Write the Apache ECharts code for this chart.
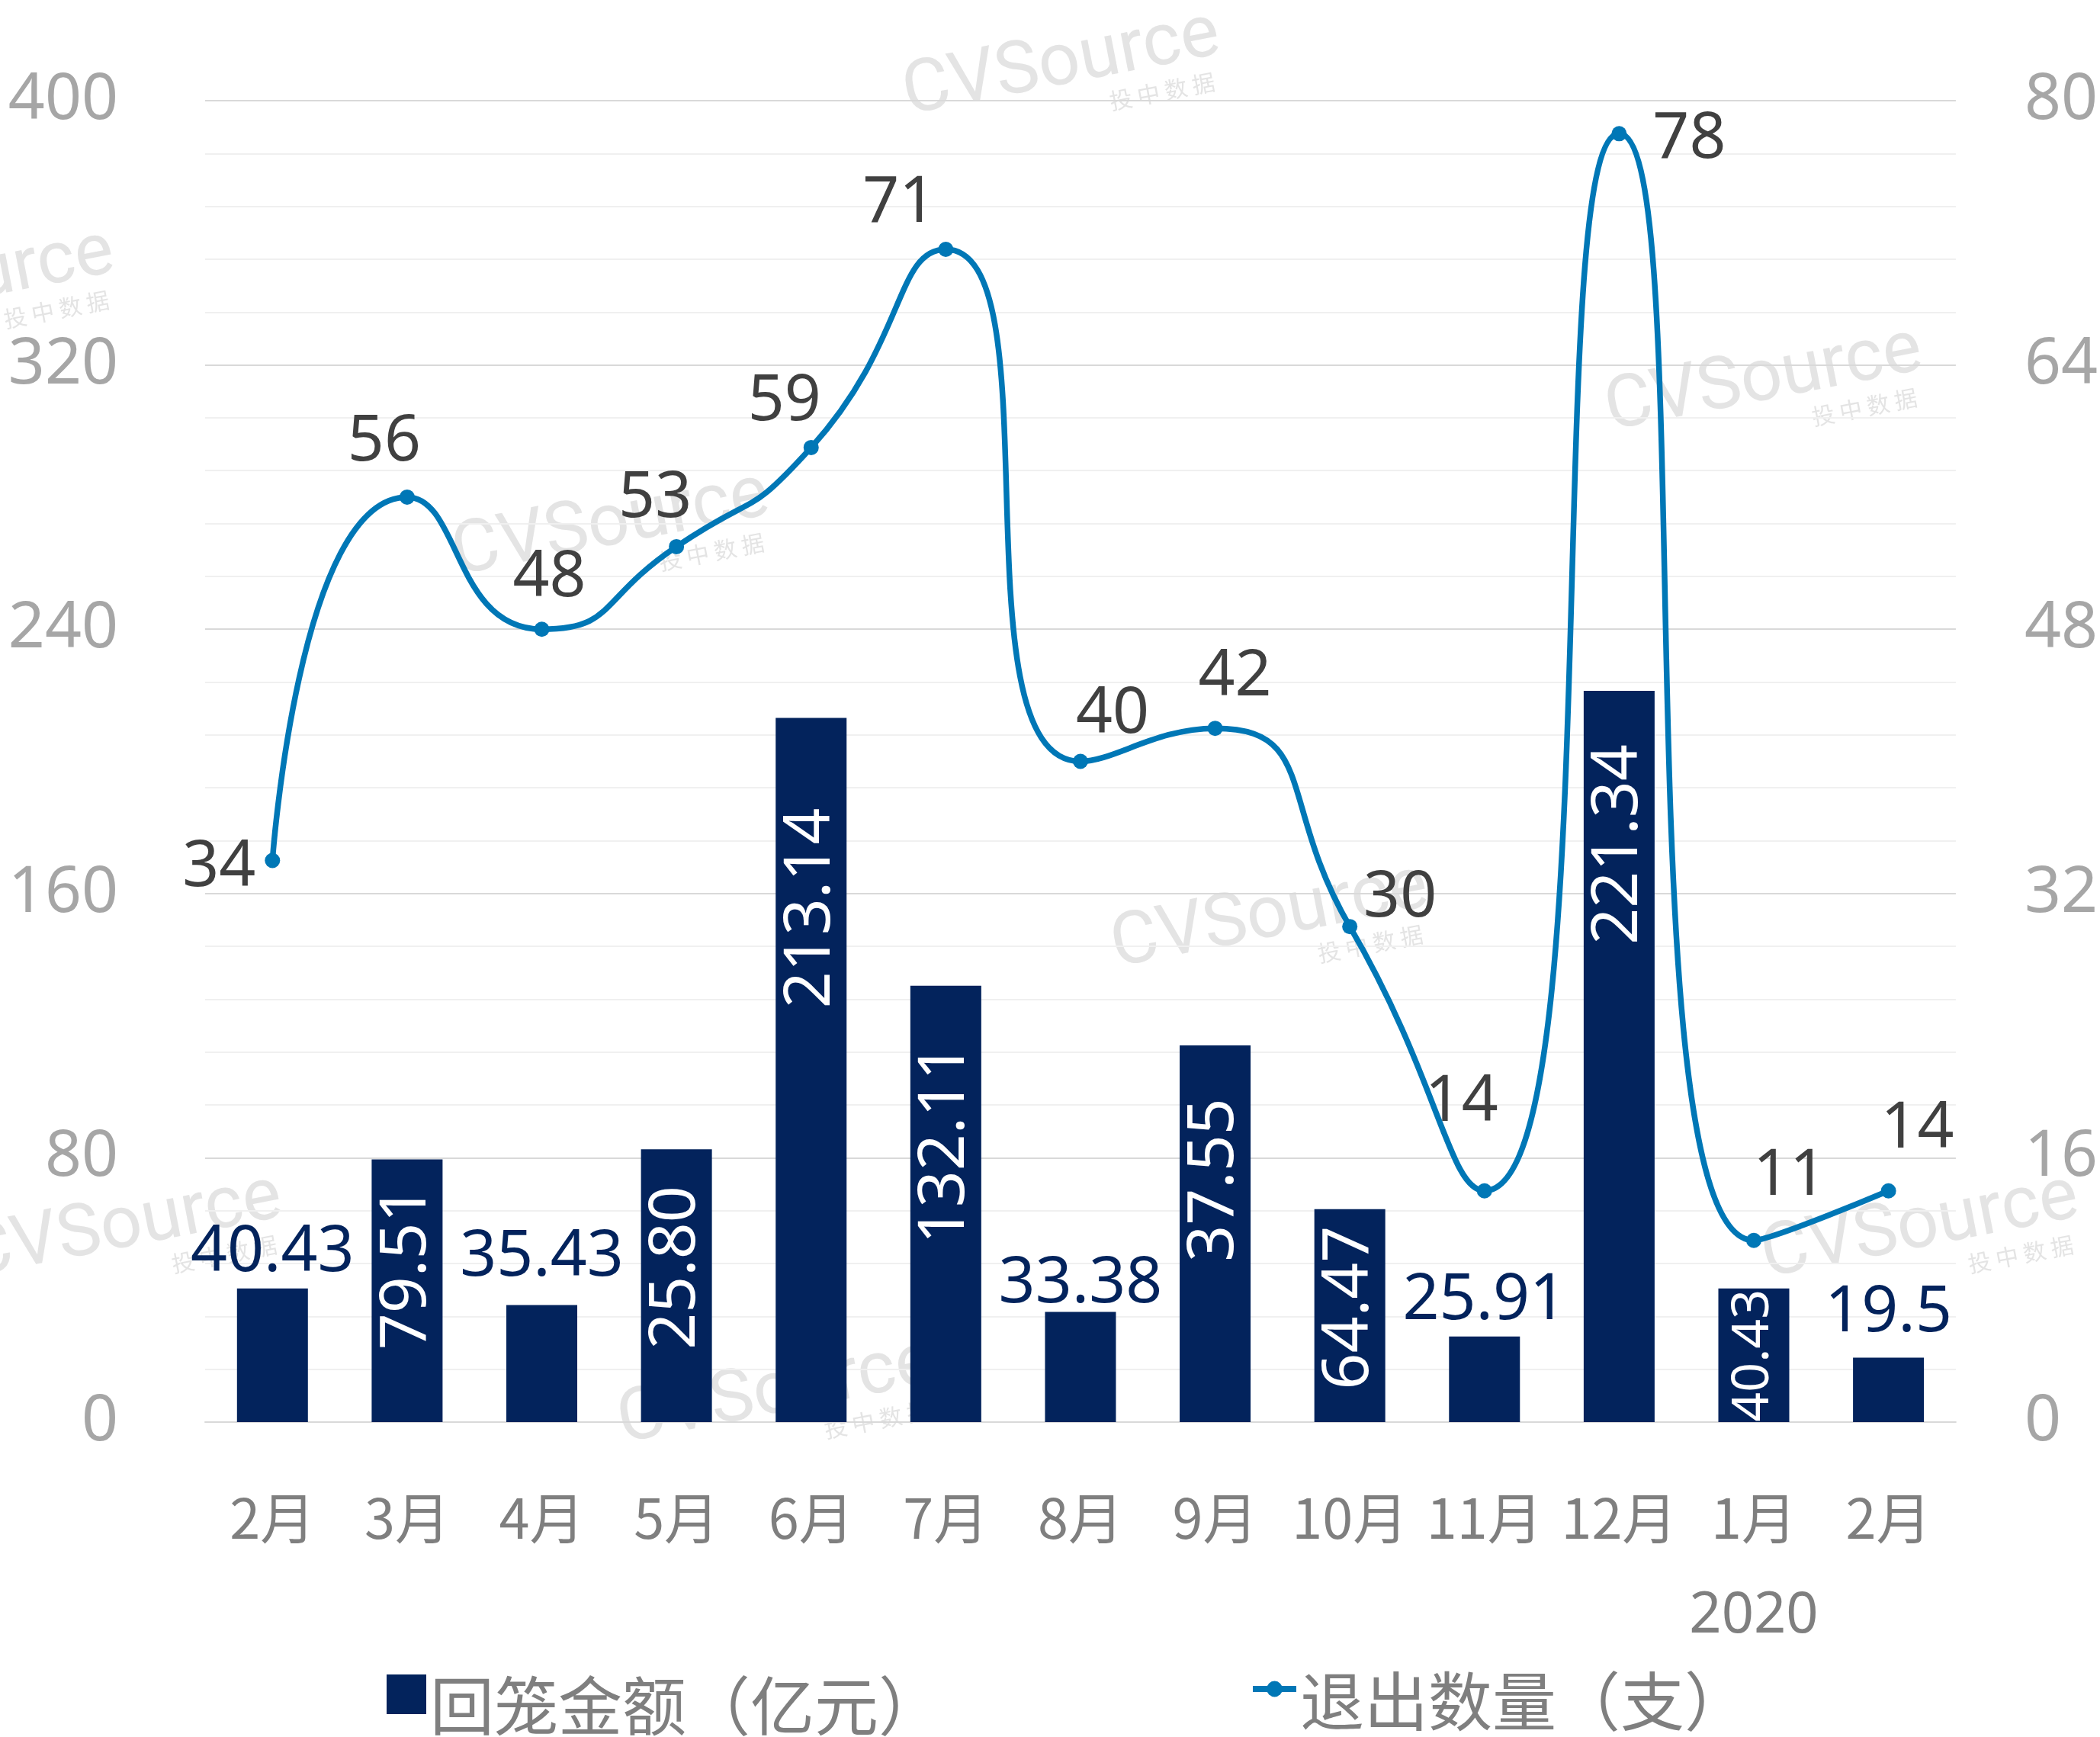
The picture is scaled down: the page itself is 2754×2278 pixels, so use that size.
<!DOCTYPE html>
<html>
<head>
<meta charset="utf-8">
<script src="https://cdn.jsdelivr.net/npm/echarts@6/dist/echarts.min.js"></script>
<style>
html,body{margin:0;padding:0;background:#fff;}
#main{width:2754px;height:2278px;}
</style>
</head>
<body>
<div id="main"></div>
<script>
// 月份
var months = ['2月','3月','4月','5月','6月','7月','8月','9月','10月','11月','12月','1月','2月'];
var yearLabel = '2020';
var yearIndex = 11;
// 回笼金额(亿元) 柱高
var amount = [40.43, 79.51, 35.43, 82.6, 213.14, 132.11, 33.38, 114.0, 64.47, 25.91, 221.34, 40.43, 19.5];
// 柱上标注文字
var amountText = ['40.43','79.51','35.43','25.80','213.14','132.11','33.38','37.55','64.47','25.91','221.34','40.43','19.5'];
// 退出数量(支)
var exits = [34, 56, 48, 53, 59, 71, 40, 42, 30, 14, 78, 11, 14];

// 标签摆放 (样式)
var rotGap = [null, 35, null, 48, 118, 76, null, 69, 22, null, 70, 1, null];   // 竖排白字离柱顶
var topGap = [5, 0, 20, 0, 0, 0, -6, 0, 0, 5, 0, 0, 16];                      // 横排字离柱顶
var lineOffset = [[-70,10],[-30,-72],[10,-67],[-28,-63],[-35,-60],[-61,-60],[42,-61],[26,-67],[66,-37],[-30,-116],[92,8],[47,-84],[38,-81]];
// 水印位置
var marks = [[1392,86],[-58,372],[801,690],[2313,500],[1665,1204],[162,1611],[1018,1828],[2518,1611]];

var navy = '#03235c';
var blue = '#0077b6';
var numFont = '"Noto Sans", "Noto Sans CJK SC", sans-serif';
var cjkFont = '"Noto Sans CJK SC", sans-serif';

var barData = [];
for (var i = 0; i < amount.length; i++) {
    var lab;
    if (rotGap[i] !== null) {
        lab = {show: true, position: 'insideTop', distance: rotGap[i], rotate: 90,
               align: 'right', verticalAlign: 'middle', color: '#fff',
               fontSize: i == 11 ? 68 : 84, formatter: amountText[i]};
    } else {
        lab = {show: true, position: 'top', distance: topGap[i], color: navy,
               fontSize: 84, formatter: amountText[i]};
    }
    barData.push({value: amount[i], label: lab});
}

var lineData = [];
for (var j = 0; j < exits.length; j++) {
    lineData.push({value: exits[j], label: {show: true, position: 'inside', offset: lineOffset[j],
        color: '#404040', fontSize: 84}});
}

var graphics = [];
for (var k = 0; k < marks.length; k++) {
    var rot = 11 * Math.PI / 180;
    graphics.push({type: 'text', x: marks[k][0], y: marks[k][1], rotation: rot, z: -1, silent: true,
        style: {text: 'CVSource', fontSize: 96, fontFamily: 'Roboto', fill: '#e4e4e4', align: 'center', verticalAlign: 'middle'}});
    graphics.push({type: 'text', x: marks[k][0] + 132, y: marks[k][1] + 34, rotation: rot, z: -1, silent: true,
        style: {text: '投 中 数 据', fontSize: 30, fontFamily: 'Noto Sans CJK SC', fill: '#e4e4e4', align: 'center', verticalAlign: 'middle'}});
}

var chart = echarts.init(document.getElementById('main'));
chart.setOption({
    animation: false,
    backgroundColor: '#fff',
    textStyle: {fontFamily: numFont},
    grid: {left: 269, right: 181, top: 132, bottom: 413},
    legend: [{
        left: 502, top: 2160, itemWidth: 52, itemHeight: 52,
        formatter: '{t|{name}}',
        textStyle: {fontSize: 84, color: '#7f7f7f', fontFamily: cjkFont,
            rich: {t: {fontSize: 84, lineHeight: 84, color: '#7f7f7f', fontFamily: cjkFont, padding: [30, 0, 0, 0]}}},
        data: [{name: '回笼金额（亿元）', icon: 'rect'}]
    }, {
        left: 1634, top: 2152, itemWidth: 57, itemHeight: 26,
        lineStyle: {width: 8},
        formatter: '{t|{name}}',
        textStyle: {fontSize: 84, color: '#7f7f7f', fontFamily: cjkFont,
            rich: {t: {fontSize: 84, lineHeight: 84, color: '#7f7f7f', fontFamily: cjkFont, padding: [32, 0, 0, 0]}}},
        data: [{name: '退出数量（支）'}]
    }],
    xAxis: {
        type: 'category',
        data: months,
        axisLine: {show: true, lineStyle: {color: '#d9d9d9', width: 2}},
        axisTick: {show: false},
        axisLabel: {
            interval: 0, fontSize: 72, color: '#7f7f7f', margin: 90,
            fontFamily: cjkFont,
            formatter: function (v, idx) {
                return idx == yearIndex ? v + '\n{yr|' + yearLabel + '}' : v;
            },
            rich: {yr: {fontSize: 74, lineHeight: 186, color: '#7f7f7f', fontFamily: numFont}}
        }
    },
    yAxis: [{
        type: 'value', min: 0, max: 400, interval: 80,
        axisLine: {show: false}, axisTick: {show: false},
        axisLabel: {fontSize: 84, color: '#a6a6a6', margin: 114},
        splitLine: {lineStyle: {color: '#d9d9d9', width: 2}},
        minorTick: {show: false, splitNumber: 5},
        minorSplitLine: {show: true, lineStyle: {color: '#f0f0f0', width: 2}}
    }, {
        type: 'value', min: 0, max: 80, interval: 16, position: 'right',
        axisLine: {show: false}, axisTick: {show: false},
        axisLabel: {fontSize: 84, color: '#a6a6a6', margin: 90},
        splitLine: {show: false}
    }],
    series: [{
        name: '回笼金额（亿元）',
        type: 'bar',
        barWidth: 93,
        itemStyle: {color: navy},
        data: barData
    }, {
        name: '退出数量（支）',
        type: 'line',
        yAxisIndex: 1,
        smooth: 0.6,
        symbol: 'circle',
        symbolSize: 20,
        lineStyle: {color: blue, width: 7.5},
        itemStyle: {color: blue},
        data: lineData
    }],
    graphic: graphics
});
</script>
</body>
</html>
